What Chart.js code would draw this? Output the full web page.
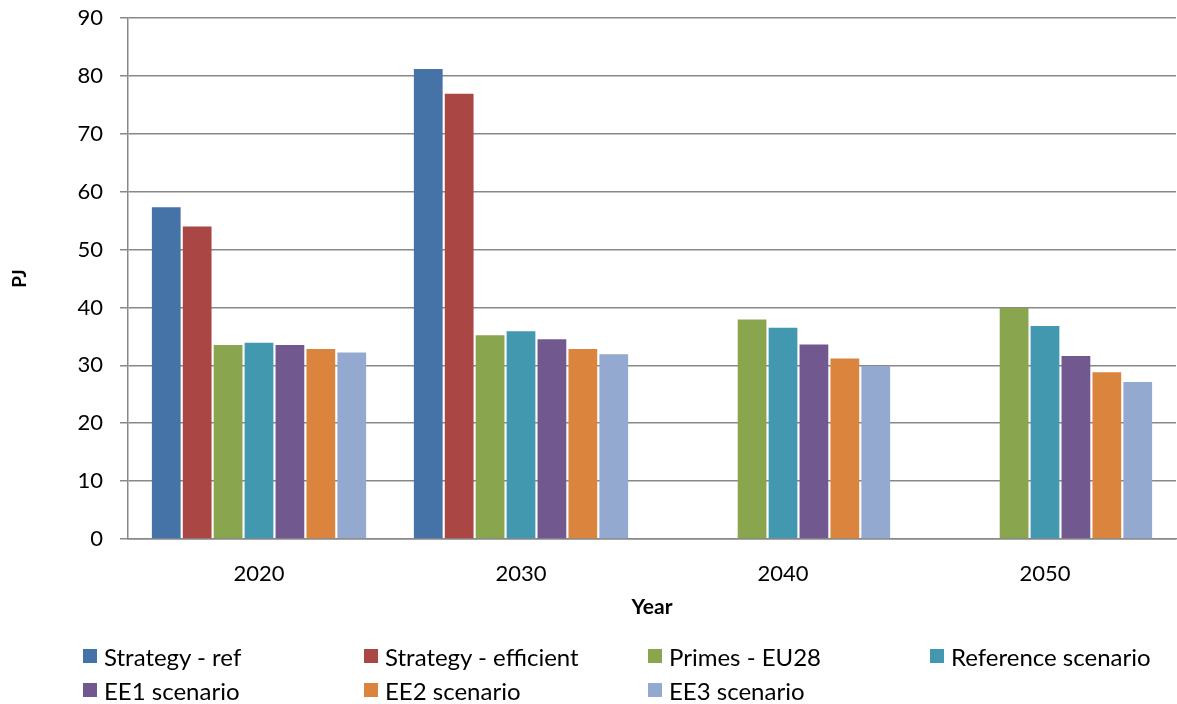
<!DOCTYPE html>
<html>
<head>
<meta charset="utf-8">
<script src="https://cdn.jsdelivr.net/npm/chart.js@4"></script>
<style>
  html, body { margin: 0; padding: 0; background: #fff; }
  #wrap { position: relative; width: 1177px; height: 704px; }
  #c { position: absolute; left: 0; top: 0; }
  #legend { position: absolute; left: 83px; top: 639px; display: grid;
    grid-template-columns: 281px 284px 282px 240px; grid-auto-rows: 34px;
    font-family: Lato, sans-serif; font-size: 24px; color: #000; }
  .item { display: flex; align-items: center; white-space: nowrap; }
  .box { width: 14px; height: 14px; margin-right: 7px; box-sizing: border-box; }
</style>
</head>
<body>
<div id="wrap">
  <canvas id="c" width="1177" height="704"></canvas>
  <div id="legend"></div>
</div>
<script>
const categories = ['2020', '2030', '2040', '2050'];
const seriesNames = ['Strategy - ref', 'Strategy - efficient', 'Primes - EU28', 'Reference scenario', 'EE1 scenario', 'EE2 scenario', 'EE3 scenario'];
const strategyRef = [57.3, 81.2, null, null];
const strategyEfficient = [54.0, 76.9, null, null];
const primesEU28 = [33.5, 35.2, 37.9, 39.9];
const referenceScenario = [33.9, 35.9, 36.5, 36.8];
const ee1Scenario = [33.5, 34.5, 33.6, 31.6];
const ee2Scenario = [32.8, 32.8, 31.2, 28.8];
const ee3Scenario = [32.2, 31.9, 29.9, 27.1];
const seriesColors = ['#4572A7', '#AA4643', '#89A54E', '#4198AF', '#71588F', '#DB843D', '#93A9CF'];
const yTicks = [0, 10, 20, 30, 40, 50, 60, 70, 80, 90];

const seriesData = [strategyRef, strategyEfficient, primesEU28, referenceScenario, ee1Scenario, ee2Scenario, ee3Scenario];
const FONT = 'Lato';
const GRID = '#888888';

const datasets = seriesNames.map((name, i) => ({
  label: name,
  data: seriesData[i],
  backgroundColor: seriesColors[i],
  borderWidth: 0,
  barPercentage: 0.93,
  categoryPercentage: 0.826
}));

new Chart(document.getElementById('c'), {
  type: 'bar',
  data: { labels: categories, datasets },
  options: {
    responsive: false,
    animation: false,
    layout: { padding: { top: 18, right: 1, bottom: 84, left: 0 } },
    plugins: { legend: { display: false }, tooltip: { enabled: false } },
    scales: {
      x: {
        afterFit: (scale) => { scale.height = 81; scale.paddingLeft = 0; scale.paddingRight = 0; },
        grid: { display: false, drawTicks: false },
        border: { display: true, color: GRID, width: 1.5 },
        ticks: { color: '#000', padding: 22, font: { family: FONT, size: 22 } },
        title: { display: true, text: 'Year', color: '#000', font: { family: FONT, size: 21, weight: 'bold' }, padding: { top: 4, bottom: 0 } }
      },
      y: {
        min: 0, max: 90,
        afterBuildTicks: (scale) => { scale.ticks = yTicks.map(v => ({ value: v })); },
        afterFit: (scale) => { scale.width = 128; scale.paddingTop = 0; scale.paddingBottom = 0; },
        grid: { color: GRID, lineWidth: 1.5, tickLength: 8, tickColor: GRID },
        border: { display: true, color: GRID, width: 1.5 },
        ticks: { color: '#000', padding: 17, font: { family: FONT, size: 22 } },
        title: { display: true, text: 'PJ', color: '#000', font: { family: FONT, size: 19, weight: 'bold' }, padding: { top: 8, bottom: 0 } }
      }
    }
  }
});

const legend = document.getElementById('legend');
seriesNames.forEach((name, i) => {
  const item = document.createElement('div');
  item.className = 'item';
  const box = document.createElement('span');
  box.className = 'box';
  box.style.background = seriesColors[i];
  const txt = document.createElement('span');
  txt.textContent = name;
  item.appendChild(box);
  item.appendChild(txt);
  legend.appendChild(item);
});
</script>
</body>
</html>
